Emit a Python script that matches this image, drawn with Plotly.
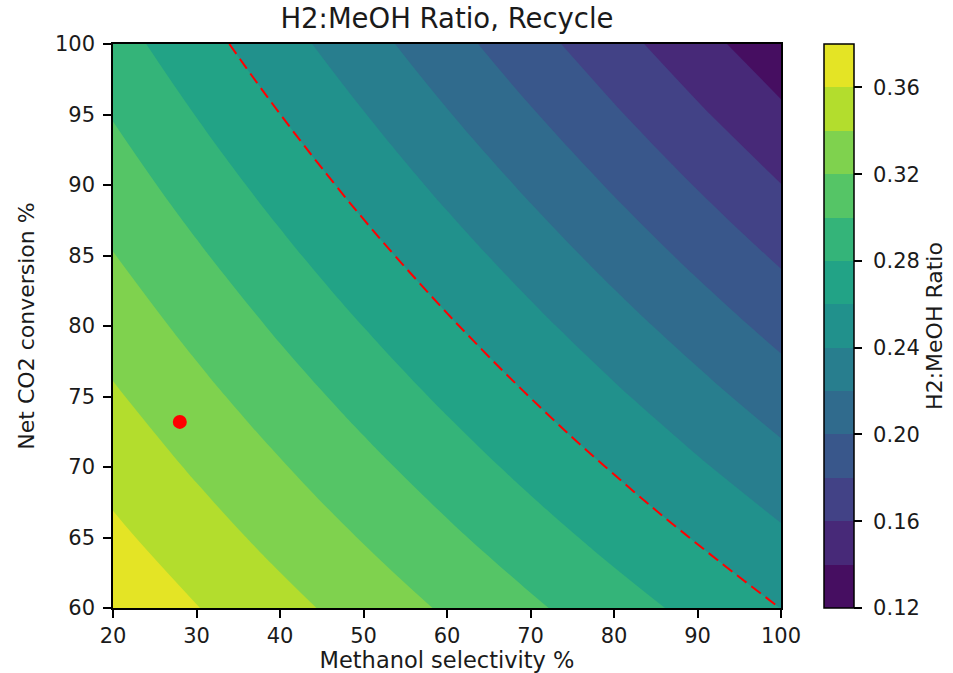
import plotly.graph_objects as go
from plotly.colors import sample_colorscale

# ---- data ----
selectivity = [20, 30, 40, 50, 60, 70, 80, 90, 100]          # Methanol selectivity %
conversion = [60, 65, 70, 75, 80, 85, 90, 95, 100]           # Net CO2 conversion %
ratio = [  # H2:MeOH ratio, rows = conversion, cols = selectivity
    [0.3750, 0.3606, 0.3463, 0.3319, 0.3175, 0.3031, 0.2888, 0.2744, 0.2598],
    [0.3641, 0.3490, 0.3339, 0.3188, 0.3037, 0.2887, 0.2736, 0.2585, 0.2434],
    [0.3533, 0.3374, 0.3216, 0.3058, 0.2901, 0.2742, 0.2584, 0.2426, 0.2268],
    [0.3424, 0.3258, 0.3093, 0.2928, 0.2763, 0.2597, 0.2432, 0.2267, 0.2101],
    [0.3315, 0.3143, 0.2970, 0.2798, 0.2625, 0.2453, 0.2280, 0.2108, 0.1935],
    [0.3206, 0.3027, 0.2847, 0.2667, 0.2488, 0.2308, 0.2128, 0.1948, 0.1769],
    [0.3098, 0.2911, 0.2724, 0.2537, 0.2350, 0.2163, 0.1976, 0.1789, 0.1603],
    [0.2989, 0.2795, 0.2601, 0.2407, 0.2212, 0.2018, 0.1824, 0.1630, 0.1436],
    [0.2880, 0.2679, 0.2478, 0.2276, 0.2075, 0.1874, 0.1673, 0.1471, 0.1270],
]
level_start, level_end, level_step = 0.12, 0.38, 0.02
dashed_level = 0.26
point_sel = [28]
point_conv = [73.2]
cbar_ticks = [0.12, 0.16, 0.20, 0.24, 0.28, 0.32, 0.36]

# work in hundredths to avoid floating point issues in contour levels
S = 100
z = [[v * S for v in row] for row in ratio]
lo, hi, st = round(level_start * S), round(level_end * S), round(level_step * S)
nb = (hi - lo) // st

viridis = [[0.0, "#440154"], [0.1, "#482475"], [0.2, "#414487"], [0.3, "#355f8d"],
           [0.4, "#2a788e"], [0.5, "#21918c"], [0.6, "#22a884"], [0.7, "#44bf70"],
           [0.8, "#7ad151"], [0.9, "#bddf26"], [1.0, "#fde725"]]
band_cols = sample_colorscale(viridis, [(k + 0.5) / nb for k in range(nb)])
cscale = []
for k, c in enumerate(band_cols):
    cscale.append([k / nb, c])
    cscale.append([(k + 1) / nb, c])

FONT = "DejaVu Sans"
TXT = "#1a1a1a"
fig = go.Figure()
fig.add_trace(go.Contour(
    x=selectivity, y=conversion, z=z,
    zmin=lo, zmax=hi, autocontour=False,
    contours=dict(start=lo, end=hi, size=st, coloring="fill", showlines=False),
    colorscale=cscale, line=dict(width=0, smoothing=1.3),
    colorbar=dict(
        x=(824 - 113) / 668, xanchor="left", xpad=0, ypad=0,
        y=0.5, yanchor="middle", len=1, lenmode="fraction", thickness=30,
        outlinewidth=1.5, outlinecolor="black",
        tickvals=[t * S for t in cbar_ticks],
        ticktext=["\u00a0" + f"{t:.2f}" for t in cbar_ticks],
        ticks="outside", ticklen=8, tickwidth=1.5, tickcolor="black",
        tickfont=dict(family=FONT, size=21, color=TXT),
        title=dict(text="H2:MeOH Ratio", side="right", font=dict(family=FONT, size=22, color=TXT)),
    ),
    hoverinfo="skip",
))
fig.add_trace(go.Contour(
    x=selectivity, y=conversion, z=z, autocontour=False,
    contours=dict(start=dashed_level * S, end=dashed_level * S, size=1, coloring="none"),
    line=dict(color="red", width=2, dash="12px,6px", smoothing=1.3),
    showscale=False, hoverinfo="skip",
))
fig.add_trace(go.Scatter(
    x=point_sel, y=point_conv, mode="markers",
    marker=dict(color="red", size=14, line=dict(width=0)), showlegend=False,
))

axis_common = dict(showline=True, mirror=True, linecolor="black", linewidth=1.5,
                   ticks="outside", ticklen=8, tickwidth=1.5, tickcolor="black",
                   showgrid=False, zeroline=False,
                   tickfont=dict(family=FONT, size=21, color=TXT))
fig.update_xaxes(range=[20, 100], tickvals=list(range(20, 101, 10)),
                 title=dict(text="Methanol selectivity %", standoff=10,
                            font=dict(family=FONT, size=22.5, color=TXT)),
                 **axis_common)
fig.update_yaxes(range=[60, 100], tickvals=list(range(60, 101, 5)),
                 ticklabelstandoff=4,
                 title=dict(text="Net CO2 conversion %", standoff=14,
                            font=dict(family=FONT, size=22, color=TXT)),
                 **axis_common)
fig.update_layout(
    width=953, height=673,
    margin=dict(l=113, r=172, t=44, b=65, autoexpand=False),
    paper_bgcolor="white", plot_bgcolor="white",
    showlegend=False,
    title=dict(text="H2:MeOH Ratio, Recycle", x=0.5, xref="paper", xanchor="center",
               y=1 - 18 / 673, yref="container", yanchor="middle",
               font=dict(family=FONT, size=27.5, color=TXT)),
)
fig.write_html("out.html")
